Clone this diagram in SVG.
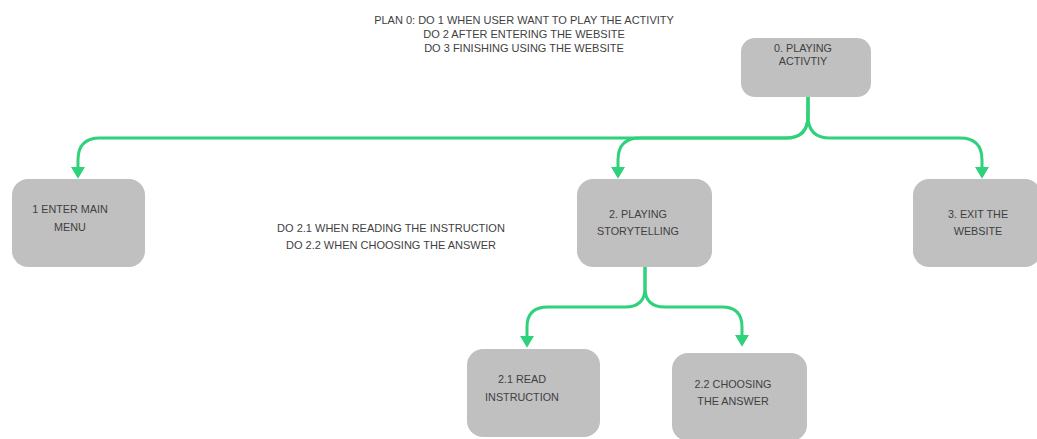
<svg xmlns="http://www.w3.org/2000/svg" width="1037" height="439" viewBox="0 0 1037 439">
<style>
.box{fill:#c0c0c0;}
.lbl{font-family:"Liberation Sans",Arial,sans-serif;font-size:10.8px;fill:#3f3f3f;text-anchor:middle;}
.note{font-family:"Liberation Sans",Arial,sans-serif;font-size:11px;fill:#3f3f3f;text-anchor:middle;}
.conn{fill:none;stroke:#2fd27a;stroke-width:3;}
</style>
<defs>
<marker id="arr" markerUnits="userSpaceOnUse" markerWidth="12" markerHeight="14" viewBox="0 0 10 12" refX="0" refY="6" orient="auto">
<path d="M0,0 L10,6 L0,12 z" fill="#2fd27a"/>
</marker>
</defs>
<rect width="1037" height="439" fill="#ffffff"/>
<g id="notes">
<text class="note" x="524" y="24">PLAN 0: DO 1 WHEN USER WANT TO PLAY THE ACTIVITY</text>
<text class="note" x="524" y="38">DO 2 AFTER ENTERING THE WEBSITE</text>
<text class="note" x="524" y="52">DO 3 FINISHING USING THE WEBSITE</text>
<text class="note" x="391" y="232">DO 2.1 WHEN READING THE INSTRUCTION</text>
<text class="note" x="391" y="249">DO 2.2 WHEN CHOOSING THE ANSWER</text>
</g>
<g id="connectors">
<path class="conn" marker-end="url(#arr)" d="M808,97 V116 Q808,138 786,138 H100 Q78,138 78,160 V167"/>
<path class="conn" marker-end="url(#arr)" d="M808,97 V116 Q808,138 786,138 H640 Q618,138 618,160 V167"/>
<path class="conn" marker-end="url(#arr)" d="M808,97 V116 Q808,138 830,138 H960 Q982,138 982,160 V167"/>
<path class="conn" marker-end="url(#arr)" d="M645,267 V288 Q645,307 625,307 H548 Q527,307 527,327 V336"/>
<path class="conn" marker-end="url(#arr)" d="M645,267 V288 Q645,307 665,307 H722 Q742,307 742,327 V335"/>
</g>
<g id="node0">
<rect class="box" x="741" y="38" width="130" height="59" rx="14"/>
<text class="lbl" x="803" y="52">0. PLAYING</text>
<text class="lbl" x="803" y="65">ACTIVTIY</text>
</g>
<g id="node1">
<rect class="box" x="12" y="179" width="133" height="88" rx="16"/>
<text class="lbl" x="70" y="213">1 ENTER MAIN</text>
<text class="lbl" x="70" y="231">MENU</text>
</g>
<g id="node2">
<rect class="box" x="577" y="179" width="135" height="88" rx="16"/>
<text class="lbl" x="638" y="218">2. PLAYING</text>
<text class="lbl" x="638" y="235">STORYTELLING</text>
</g>
<g id="node3">
<rect class="box" x="913" y="179" width="128" height="88" rx="16"/>
<text class="lbl" x="978" y="218">3. EXIT THE</text>
<text class="lbl" x="978" y="235">WEBSITE</text>
</g>
<g id="node21">
<rect class="box" x="467" y="349" width="133" height="88" rx="16"/>
<text class="lbl" x="522" y="383">2.1 READ</text>
<text class="lbl" x="522" y="401">INSTRUCTION</text>
</g>
<g id="node22">
<rect class="box" x="672" y="353" width="135" height="88" rx="16"/>
<text class="lbl" x="733" y="388">2.2 CHOOSING</text>
<text class="lbl" x="733" y="405">THE ANSWER</text>
</g>
</svg>
